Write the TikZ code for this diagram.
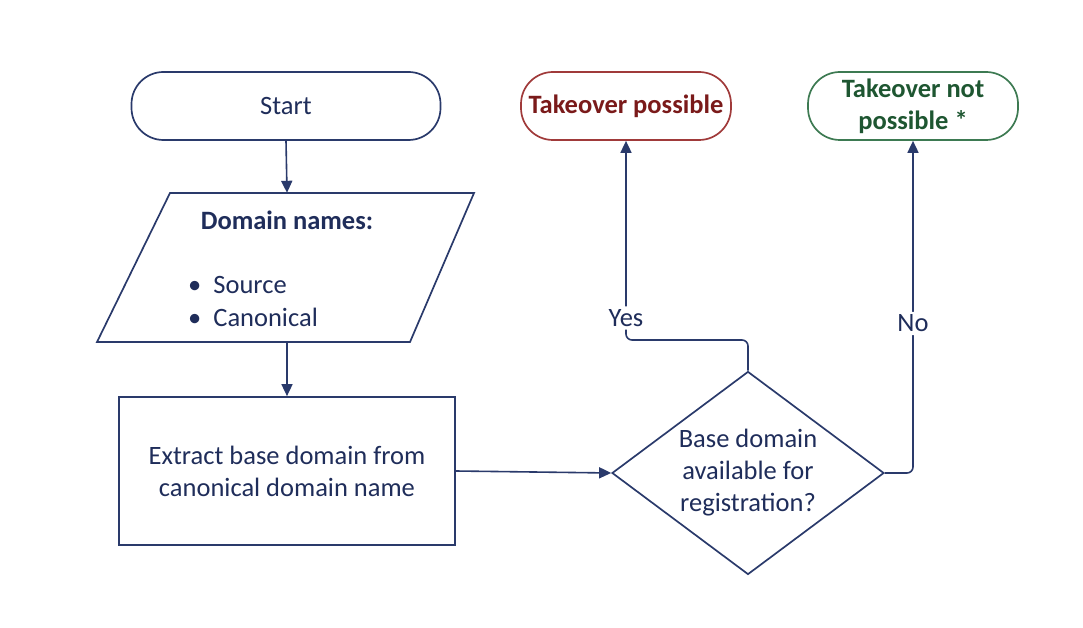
\documentclass[tikz,border=0pt]{standalone}
\usepackage{fontspec}
\setmainfont{Carlito}
\usetikzlibrary{arrows.meta,shapes.geometric}
\definecolor{navy}{HTML}{1F2D5A}
\definecolor{lnavy}{HTML}{2A3A6B}
\definecolor{rbord}{HTML}{A03A3A}
\definecolor{rtext}{HTML}{7A1A1A}
\definecolor{gbord}{HTML}{3D7A52}
\definecolor{gtext}{HTML}{1E5631}
\begin{document}
\begin{tikzpicture}[x=1pt,y=-1pt,
  every node/.style={font=\fontsize{26.5}{32}\selectfont, text=navy},
  term/.style={draw=lnavy, line width=1.7pt, rectangle, rounded corners=32pt, minimum width=309pt, minimum height=68pt, align=center, inner sep=0pt},
  procbox/.style={draw=lnavy, line width=1.7pt, rectangle, minimum width=336pt, minimum height=148pt, align=center},
  decision/.style={draw=lnavy, line width=1.7pt, diamond, minimum width=272pt, minimum height=203pt, inner sep=0pt},
  conn/.style={draw=lnavy, line width=1.6pt, -{Triangle[length=12pt,width=11pt]}},
  lbl/.style={fill=white, inner sep=3pt}
]
\useasboundingbox (0,0) rectangle (1083,628);
% Start
\node[term] (start) at (286,106) {Start};
% Parallelogram (data)
\draw[lnavy, line width=1.7pt] (170,193) -- (474,193) -- (410,342) -- (97,342) -- cycle;
\node[minimum width=300pt, minimum height=149pt, inner sep=0pt] (data) at (287,267.5) {};
\node[font=\fontsize{26.5}{32}\selectfont\bfseries] (dtitle) at (287,220) {Domain names:};
\node[anchor=west, align=left, inner sep=0pt] (dlist) at (188,301) {\textbullet\hspace{12pt}Source\\[1pt]\textbullet\hspace{12pt}Canonical};
% Process
\node[procbox] (proc) at (287,471) {Extract base domain from\\canonical domain name};
% Decision
\node[decision] (dec) at (748,473) {};
\node[align=center] (dectext) at (748,473) {Base domain\\available for\\registration?};
% Outcomes
\node[term, draw=rbord, text=rtext, font=\fontsize{26.5}{32}\selectfont\bfseries, minimum width=210pt] (tp) at (626,106) {Takeover possible};
\node[term, draw=gbord, text=gtext, font=\fontsize{26.5}{32}\selectfont\bfseries, minimum width=210pt] (tnp) at (913,106) {Takeover not\\possible *};
% Connectors
\draw[conn] (start.south) -- (data.north);
\draw[conn] (data.south) -- (proc.north);
\draw[conn] (proc.east) -- (dec.west);
\draw[conn, rounded corners=6pt] (dec.north) -- (dec.north |- 0,340) -- (tp.south |- 0,340) -- node[lbl, pos=0.11]{Yes} (tp.south);
\draw[conn, rounded corners=6pt] (dec.east) -- (tnp.south |- dec.east) -- node[lbl, pos=0.45]{No} (tnp.south);
\end{tikzpicture}
\end{document}
